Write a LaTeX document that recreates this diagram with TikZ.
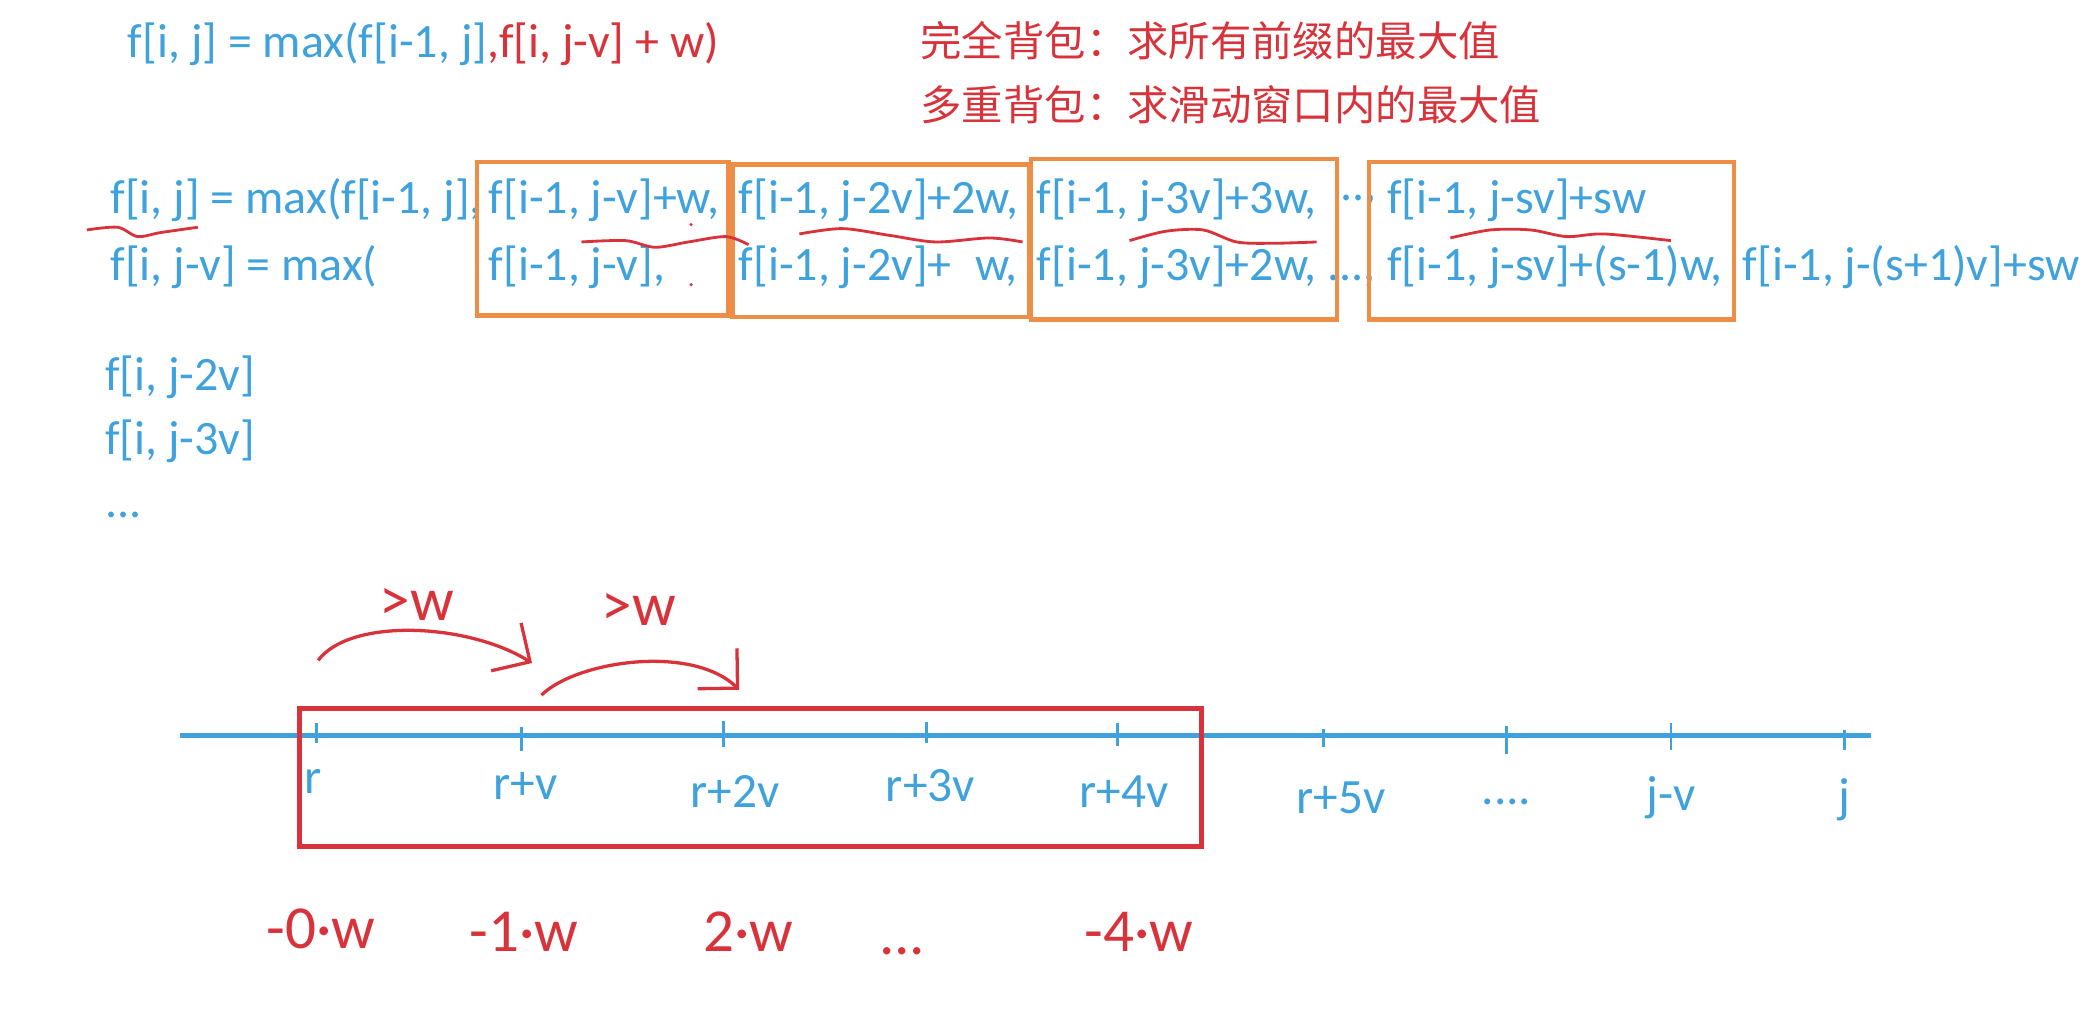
\documentclass[tikz,border=0pt]{standalone}
\usepackage{fontspec}
\setmainfont{Carlito}
\newfontfamily\cjk{Noto Sans CJK SC}
\usetikzlibrary{arrows.meta}
\definecolor{fblue}{HTML}{3FA2DC}
\definecolor{fred}{HTML}{D8333B}
\definecolor{forange}{HTML}{EE8D45}
\begin{document}
\begin{tikzpicture}[x=0.01cm, y=-0.01cm,
  eq/.style={anchor=west, inner sep=0pt, text=fblue, font=\fontsize{10.2}{12}\selectfont},
  note/.style={anchor=west, inner sep=0pt, text=fred, font=\cjk\fontsize{8.8}{11}\selectfont},
  hand/.style={inner sep=0pt, text=fred, font=\fontsize{13}{16}\selectfont},
  tick/.style={fblue, line width=0.6pt},
  lbl/.style={inner sep=0pt, text=fblue, font=\fontsize{10.5}{12}\selectfont},
  win/.style={forange, line width=0.9pt},
  wave/.style={fred, line width=0.6pt}]
\useasboundingbox (0,0) rectangle (1568,760);
\node[eq] (top) at (95,33) {f[i, j] = max(f[i-1, j]\textcolor{fred}{,f[i, j-v] + w)}};
\node[note] (full) at (688,30) {完全背包：求所有前缀的最大值};
\node[note] (multi) at (688,78) {多重背包：求滑动窗口内的最大值};
\node[eq] (a0) at (82,150) {f[i, j] = max(f[i-1, j],};
\node[eq] (a1) at (365,150) {f[i-1, j-v]+w,};
\node[eq] (a2) at (552,150) {f[i-1, j-2v]+2w,};
\node[eq] (a3) at (775,150) {f[i-1, j-3v]+3w,};
\node[eq] (a4) at (1002,150) {..,};
\node[eq] (a5) at (1037,150) {f[i-1, j-sv]+sw};
\node[eq] (b0) at (82,200) {f[i, j-v] = max(};
\node[eq] (b1) at (365,200) {f[i-1, j-v],};
\node[eq] (b2) at (552,200) {f[i-1, j-2v]+\hspace{0.5em}w,};
\node[eq] (b3) at (775,200) {f[i-1, j-3v]+2w, ...,};
\node[eq] (b4) at (1037,200) {f[i-1, j-sv]+(s-1)w,};
\node[eq] (b5) at (1303,200) {f[i-1, j-(s+1)v]+sw};
\node[eq] (c0) at (78,282) {f[i, j-2v]};
\node[eq] (c1) at (78,330) {f[i, j-3v]};
\node[eq] (c2) at (78,385) {...};
\draw[win] (357,121) rectangle (545,236);
\draw[win] (548,123) rectangle (770,237);
\draw[win] (771,119) rectangle (1000,239);
\draw[win] (1024,121) rectangle (1297,239);
\draw[wave] plot[smooth] coordinates {(65,172) (88,170) (103,177) (120,174) (148,170)};
\draw[wave] plot[smooth] coordinates {(435,181) (468,180) (490,185) (515,181) (543,177) (560,183)};
\draw[wave] plot[smooth] coordinates {(598,175) (630,171) (665,176) (700,181) (740,178) (765,181)};
\draw[wave] plot[smooth] coordinates {(845,180) (872,173) (900,172) (925,181) (952,182) (985,181)};
\draw[wave] plot[smooth] coordinates {(1085,178) (1115,172) (1145,172) (1172,177) (1200,175) (1250,180)};
\fill[fred] (517,168) circle (1.3);
\fill[fred] (517,213) circle (1.3);
\coordinate (ax0) at (135,550);
\coordinate (ax1) at (1400,550);
\draw[fblue, line width=1pt] (ax0) -- (ax1);
\draw[tick] (237,541) -- (237,556);
\draw[tick] (390,544) -- (390,562);
\draw[tick] (541,539) -- (541,559);
\draw[tick] (693,540) -- (693,556);
\draw[tick] (836,541) -- (836,558);
\draw[tick] (990,545) -- (990,559);
\draw[tick] (1127,543) -- (1127,564);
\draw[tick] (1250,541) -- (1250,561);
\draw[tick] (1380,546) -- (1380,561);
\node[lbl] (r0) at (234,585) {r};
\node[lbl] (r1) at (393,588) {r+v};
\node[lbl] (r2) at (550,592) {r+2v};
\node[lbl] (r3) at (696,588) {r+3v};
\node[lbl] (r4) at (841,592) {r+4v};
\node[lbl] (r5) at (1003,597) {r+5v};
\node[lbl] (rd) at (1127,600) {....};
\node[lbl] (jv) at (1250,597) {j-v};
\node[lbl] (jj) at (1380,598) {j};
\draw[fred, line width=1pt] (224,530) rectangle (899,633);
\coordinate (s0) at (238,494);
\coordinate (e0) at (398,496);
\coordinate (s1) at (405,520);
\coordinate (e1) at (553,516);
\draw[fred, line width=0.7pt, -{Straight Barb[length=6pt]}] (s0) .. controls (262,462) and (350,466) .. (e0);
\draw[fred, line width=0.7pt, -{Straight Barb[length=6pt]}] (s1) .. controls (432,494) and (518,482) .. (e1);
\node[hand] (gw0) at (312,452) {>w};
\node[hand] (gw1) at (478,456) {>w};
\node[hand] (k0) at (240,695) {-0·w};
\node[hand] (k1) at (392,697) {-1·w};
\node[hand] (k2) at (560,697) {2·w};
\node[hand] (kd) at (675,712) {...};
\node[hand] (k4) at (852,697) {-4·w};
\end{tikzpicture}
\end{document}
